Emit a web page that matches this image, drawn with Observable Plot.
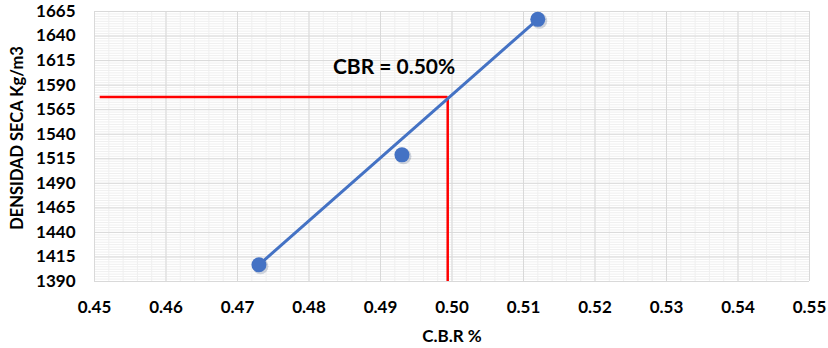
<!DOCTYPE html>
<html>
<head>
<meta charset="utf-8">
<script src="https://cdn.jsdelivr.net/npm/d3@7"></script>
<script src="https://cdn.jsdelivr.net/npm/@observablehq/plot@0.6"></script>
<style>
  html, body { margin: 0; padding: 0; background: #fff; }
  #chart { width: 828px; height: 348px; }
</style>
</head>
<body>
<div id="chart"></div>
<script>
// Data
const cbrValues = [0.473, 0.493, 0.512];
const densityValues = [1407, 1519, 1657];
const trendCbr = [0.473, 0.512];
const trendDensity = [1407, 1657];
const cbrResultX = [0.4994];
const cbrResultY = [1578];
const cbrGuideStartX = [0.4508];
const annotationText = ["CBR = 0.50%"];
const annotationX = [0.4919];
const annotationY = [1608];
const xTicks = [0.45, 0.46, 0.47, 0.48, 0.49, 0.50, 0.51, 0.52, 0.53, 0.54, 0.55];
const yTicks = [1390, 1415, 1440, 1465, 1490, 1515, 1540, 1565, 1590, 1615, 1640, 1665];
const xLabel = ["C.B.R %"];
const yLabel = ["DENSIDAD SECA Kg/m3"];

const points = cbrValues.map((x, i) => ({x, y: densityValues[i]}));
const trend = trendCbr.map((x, i) => ({x, y: trendDensity[i]}));
const hGuide = [{x1: cbrGuideStartX[0], x2: cbrResultX[0], y: cbrResultY[0]}];
const vGuide = [{x: cbrResultX[0], y1: 1390, y2: cbrResultY[0]}];
const notes = annotationText.map((t, i) => ({t, x: annotationX[i], y: annotationY[i]}));

// minor grid (decoration)
const minorX = d3.range(0, 51).map(i => 0.45 + i * 0.002);
const minorY = d3.range(0, 111).map(i => 1390 + i * 2.5);

const chart = Plot.plot({
  width: 828,
  height: 348,
  marginLeft: 94,
  marginRight: 19,
  marginTop: 11,
  marginBottom: 67,
  style: {fontFamily: "Lato, 'Open Sans', sans-serif", fontSize: "17px", fontWeight: "bold", color: "#000", background: "#fff"},
  x: {domain: [0.45, 0.55]},
  y: {domain: [1390, 1665]},
  marks: [
    Plot.ruleX(minorX, {stroke: "#efefef", strokeWidth: 1}),
    Plot.ruleY(minorY, {stroke: "#efefef", strokeWidth: 1}),
    Plot.ruleX(xTicks, {stroke: "#d9d9d9", strokeWidth: 1}),
    Plot.ruleY(yTicks, {stroke: "#d9d9d9", strokeWidth: 1}),
    Plot.axisX({ticks: xTicks, tickSize: 0, tickPadding: 19, tickFormat: d3.format(".2f"), fontSize: 17, label: null}),
    Plot.axisY({ticks: yTicks, tickSize: 0, tickPadding: 19, tickFormat: d => String(d), fontSize: 17, label: null}),
    Plot.text(xLabel, {frameAnchor: "bottom", text: d => d, dy: 60, fontSize: 17, fontWeight: "bold", fill: "#000"}),
    Plot.text(yLabel, {frameAnchor: "left", textAnchor: "middle", text: d => d, rotate: -90, dx: -77, dy: -8.5, fontSize: 16.5, fontWeight: "bold", fill: "#000"}),
    Plot.ruleY(hGuide, {x1: "x1", x2: "x2", y: "y", stroke: "#ff0000", strokeWidth: 2.5}),
    Plot.ruleX(vGuide, {x: "x", y1: "y1", y2: "y2", stroke: "#ff0000", strokeWidth: 2.5}),
    Plot.line(trend, {x: "x", y: "y", stroke: "#4472c4", strokeWidth: 3}),
    Plot.dot(points, {x: "x", y: "y", r: 8, fill: "#1f3864", fillOpacity: 0.2, stroke: "none", dx: 1.5, dy: 1.5}),
    Plot.dot(points, {x: "x", y: "y", r: 7.5, fill: "#4472c4", stroke: "none"}),
    Plot.text(notes, {x: "x", y: "y", text: "t", fontSize: 21, fontWeight: "bold", fill: "#000"})
  ]
});
document.getElementById("chart").appendChild(chart);
</script>
</body>
</html>
